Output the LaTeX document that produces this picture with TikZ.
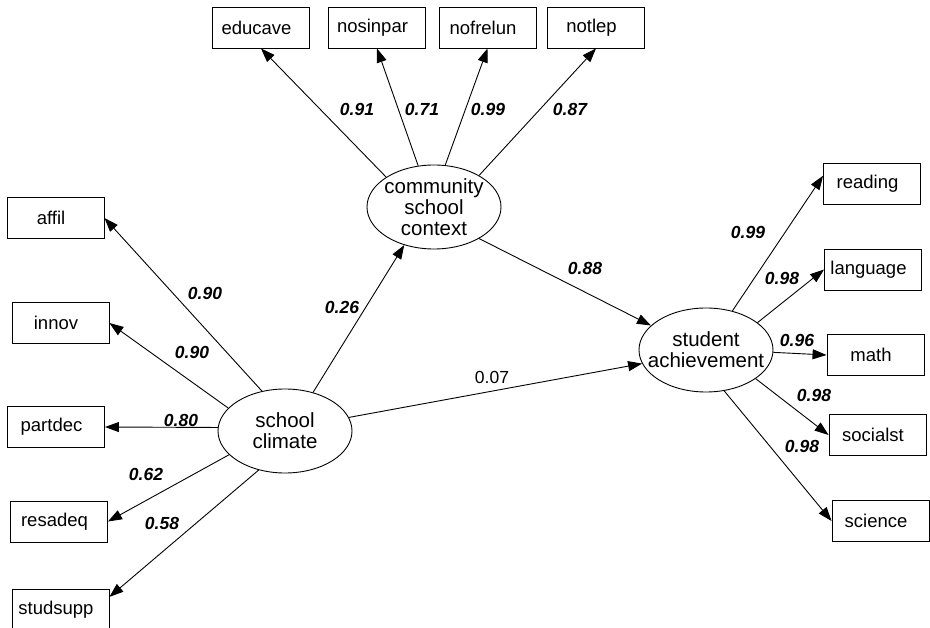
\documentclass[tikz,border=0pt]{standalone}
\usepackage{fontspec}
\setmainfont{Liberation Sans}
\usetikzlibrary{shapes.geometric, arrows.meta, positioning}
\tikzset{
	obsvar/.style={draw, line width=0.9pt, minimum width=97pt, minimum height=41pt, inner sep=0pt, font=\fontsize{18.5}{20}\selectfont, execute at begin node={\hspace*{-9pt}}},
	latvar/.style={draw, ellipse, line width=0.9pt, minimum width=134pt, minimum height=84pt, inner xsep=-14pt, inner ysep=-14pt, align=center, font=\fontsize{20.5}{21}\selectfont},
	load/.style={line width=0.9pt, -{Triangle[length=14pt,width=10pt]}},
	coef/.style={inner sep=0pt, font=\fontsize{17.5}{18}\selectfont\bfseries\itshape},
	coefplain/.style={inner sep=0pt, font=\fontsize{17.5}{18}\selectfont}
}
\newcommand\obsbox[4]{\node[obsvar] (#1) at (#2,#3) {#4};}
\newcommand\coefat[4]{\node[coef] (#1) at (#2,#3) {#4};}

\begin{document}
\begin{tikzpicture}[x=1pt, y=-1pt]
	\useasboundingbox (0,0) rectangle (930,628);
	% latent variables
	\node[latvar] (cc) at (434,207) {community\\school\\context};
	\node[latvar] (sc) at (285,431) {school\\climate};
	\node[latvar] (sa) at (706,350) {student\\achievement};
	% indicators
	\obsbox{educave}{261}{27.5}{educave}
	\obsbox{nosinpar}{377}{27.5}{nosinpar}
	\obsbox{nofrelun}{487.5}{27.5}{nofrelun}
	\obsbox{notlep}{596}{27.5}{notlep}
	\obsbox{affil}{55.5}{218}{affil}
	\obsbox{innov}{60.5}{323}{innov}
	\obsbox{partdec}{56}{427}{partdec}
	\obsbox{resadeq}{59}{521.5}{resadeq}
	\obsbox{studsupp}{60.5}{610}{studsupp}
	\obsbox{reading}{872}{183.5}{reading}
	\obsbox{language}{873}{269.5}{language}
	\obsbox{math}{875.5}{355}{math}
	\obsbox{socialst}{877.5}{435}{socialst}
	\obsbox{science}{880.5}{521}{science}
	% paths
	\draw[load] (cc.148) -- (educave.south);
	\draw[load] (cc.111) -- (nosinpar.south);
	\draw[load] (cc.75) -- (nofrelun.south);
	\draw[load] (cc.35) -- (notlep.south);
	\draw[load] (sc.120) -- (affil.east);
	\draw[load] (sc.158) -- (innov.east);
	\draw[load] (sc.177) -- (partdec.east);
	\draw[load] (sc.203) -- (resadeq.east);
	\draw[load] (sc.236) -- (studsupp.15);
	\draw[load] (sc.54) -- (cc.232);
	\draw[load] (sc.12) -- (sa.192);
	\draw[load] (cc.325) -- (sa.156);
	\draw[load] (sa.56) -- (reading.171);
	\draw[load] (sa.28) -- (language.west);
	\draw[load] (sa.358) -- (math.west);
	\draw[load] (sa.330) -- (socialst.west);
	\draw[load] (sa.294) -- (science.west);
	% coefficients
	\coefat{k-educave}{357}{109}{0.91}
	\coefat{k-nosinpar}{422}{109}{0.71}
	\coefat{k-nofrelun}{488}{109}{0.99}
	\coefat{k-notlep}{570}{109}{0.87}
	\coefat{k-affil}{205}{293}{0.90}
	\coefat{k-innov}{192}{352}{0.90}
	\coefat{k-partdec}{181}{420}{0.80}
	\coefat{k-resadeq}{146}{474}{0.62}
	\coefat{k-studsupp}{162}{523}{0.58}
	\coefat{k-context}{342}{307}{0.26}
	\coefat{k-achieve}{585}{268}{0.88}
	\node[coefplain] (k-direct) at (492,377) {0.07};
	\coefat{k-reading}{748}{232}{0.99}
	\coefat{k-language}{782}{278}{0.98}
	\coefat{k-math}{797}{340}{0.96}
	\coefat{k-socialst}{814}{395}{0.98}
	\coefat{k-science}{802}{446}{0.98}
\end{tikzpicture}
\end{document}
